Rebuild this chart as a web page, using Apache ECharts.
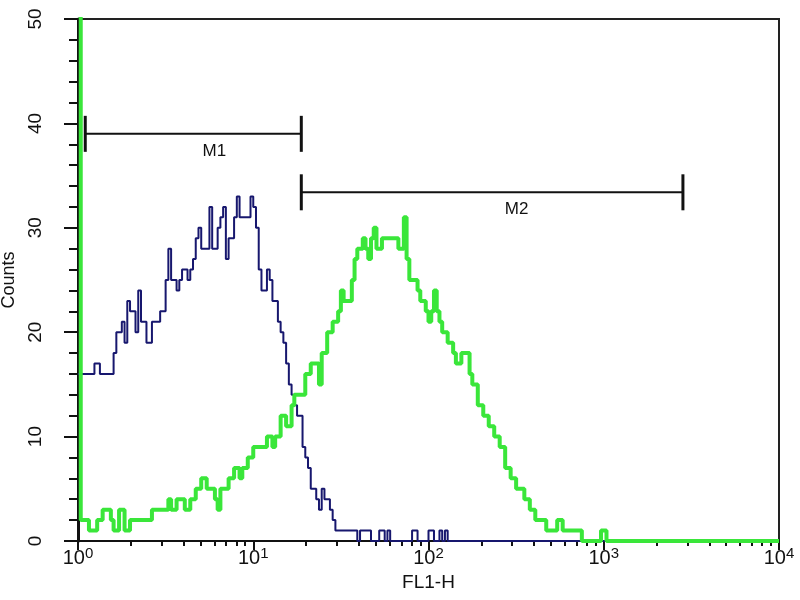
<!DOCTYPE html>
<html>
<head>
<meta charset="utf-8">
<script src="https://cdn.jsdelivr.net/npm/echarts@6/dist/echarts.min.js"></script>
<style>
html, body { margin: 0; padding: 0; background: #fff; }
#chart { width: 800px; height: 600px; }
</style>
</head>
<body>
<div id="chart"></div>
<script>
// FL1-H histogram, 256 log channels over 4 decades
var channelsPerDecade = 64;
var totalChannels = 256;
var decades = [0, 1, 2, 3, 4];

// counts per channel, starting at channel 0
var blueCounts = [
    16, 16, 16, 16, 16, 16, 17, 17, 16, 16, 16, 16, 16, 18, 20, 20,
    21, 19, 23, 22, 22, 20, 24, 21, 21, 19, 19, 21, 21, 21, 22, 22,
    25, 28, 25, 25, 24, 25, 26, 26, 25, 26, 27, 29, 30, 28, 28, 28,
    32, 28, 28, 30, 31, 32, 27, 29, 29, 31, 33, 31, 31, 31, 31, 33,
    32, 30, 26, 24, 24, 26, 25, 23, 23, 21, 20, 19, 17, 15, 14, 13,
    12, 12, 9, 8, 7, 5, 5, 4, 3, 5, 4, 4, 3, 2, 1, 1,
    1, 1, 1, 1, 1, 1, 0, 1, 1, 1, 1, 0, 0, 0, 1, 1,
    0, 1, 0, 0, 0, 0, 0, 0, 0, 0, 1, 1, 0, 0, 0, 0,
    1, 1, 0, 0, 1, 0, 1, 0
];
// channel 0 is off scale
var greenCounts = [
    120, 2, 2, 2, 1, 1, 1, 2, 2, 3, 3, 3, 2, 1, 1, 3,
    3, 1, 1, 2, 2, 2, 2, 2, 2, 2, 2, 3, 3, 3, 3, 3,
    3, 4, 3, 3, 4, 4, 4, 3, 3, 4, 4, 5, 5, 6, 6, 5,
    5, 5, 4, 3, 5, 5, 5, 6, 6, 7, 7, 6, 7, 7, 8, 8,
    9, 9, 9, 9, 9, 10, 10, 9, 10, 10, 12, 12, 11, 11, 13, 14,
    14, 14, 14, 16, 16, 17, 17, 17, 15, 18, 18, 20, 20, 21, 21, 22,
    24, 23, 23, 23, 25, 27, 28, 28, 29, 28, 27, 29, 30, 28, 28, 29,
    29, 29, 29, 29, 29, 28, 28, 31, 27, 25, 25, 25, 24, 23, 23, 22,
    21, 22, 24, 22, 21, 20, 20, 19, 19, 18, 17, 17, 18, 18, 18, 16,
    15, 15, 13, 13, 12, 12, 11, 11, 10, 10, 9, 9, 7, 7, 6, 6,
    5, 5, 5, 4, 4, 3, 3, 2, 2, 2, 2, 1, 1, 1, 1, 2,
    2, 1, 1, 1, 1, 1, 1, 1, 0, 0, 0, 0, 0, 0, 0, 1,
    1
];

// markers (FL1-H values)
var gateNames = ['M1', 'M2'];
var gateFrom = [1.1, 18.8];
var gateTo = [18.8, 2830];
var gateLevel = [39, 33.4];
var gateLabelAt = [6.0, 318];

function toPoints(counts) {
    var pts = counts.map(function (c, ch) { return [ch / channelsPerDecade, c]; });
    pts.push([counts.length / channelsPerDecade, 0]);
    pts.push([totalChannels / channelsPerDecade, 0]);
    return pts;
}

var minorTicks = [];
decades.slice(0, -1).forEach(function (d) {
    for (var k = 2; k <= 9; k++) minorTicks.push(d + Math.log10(k));
});

var gateData = gateNames.map(function (n, i) {
    return [Math.log10(gateFrom[i]), Math.log10(gateTo[i]), gateLevel[i], Math.log10(gateLabelAt[i])];
});

var myChart = echarts.init(document.getElementById('chart'));
var font = '"Liberation Sans", Arial, sans-serif';
var option = {
    animation: false,
    backgroundColor: '#fff',
    grid: {
        left: 78, right: 21, top: 19, bottom: 59,
        containLabel: false, outerBoundsMode: 'none',
        show: true, borderColor: '#222', borderWidth: 2
    },
    xAxis: [{
        type: 'value', min: 0, max: 4, interval: 1,
        name: 'FL1-H', nameLocation: 'middle', nameGap: 30,
        nameTextStyle: { fontFamily: font, fontSize: 19, color: '#111' },
        axisLine: { lineStyle: { color: '#111', width: 2 } },
        axisTick: { length: 9, lineStyle: { color: '#111', width: 2 } },
        splitLine: { show: false },
        axisLabel: {
            margin: 5,
            formatter: function (v) { return '{b|10}{s|' + v + '}'; },
            rich: {
                b: { fontFamily: font, fontSize: 20, color: '#111', lineHeight: 24 },
                s: { fontFamily: font, fontSize: 15, color: '#111', verticalAlign: 'top', lineHeight: 14 }
            }
        }
    }, {
        type: 'value', min: 0, max: 4, position: 'bottom',
        axisLine: { show: false },
        axisLabel: { show: false },
        splitLine: { show: false },
        axisTick: { length: 5, customValues: minorTicks, lineStyle: { color: '#111', width: 2 } }
    }],
    yAxis: {
        type: 'value', min: 0, max: 50, interval: 10,
        name: 'Counts', nameLocation: 'middle', nameGap: 56,
        nameTextStyle: { fontFamily: font, fontSize: 18, color: '#111' },
        axisLine: { show: true, lineStyle: { color: '#111', width: 3 } },
        axisTick: { length: 14, lineStyle: { color: '#111', width: 2 } },
        minorTick: { show: true, splitNumber: 5, length: 9, lineStyle: { color: '#111', width: 2 } },
        splitLine: { show: false },
        axisLabel: { rotate: 90, margin: 33, fontFamily: font, fontSize: 19, color: '#111' }
    },
    series: [{
        name: 'blue',
        type: 'line', step: 'end', showSymbol: false, clip: true,
        lineStyle: { color: '#17176e', width: 2 },
        data: toPoints(blueCounts)
    }, {
        name: 'green',
        type: 'line', step: 'end', showSymbol: false, clip: true,
        lineStyle: { color: '#3ae63a', width: 4 },
        data: toPoints(greenCounts)
    }, {
        type: 'custom',
        data: gateData,
        renderItem: function (params, api) {
            var lvl = api.value(2);
            var p0 = api.coord([api.value(0), lvl]);
            var p1 = api.coord([api.value(1), lvl]);
            var pl = api.coord([api.value(3), lvl]);
            var ink = { stroke: '#111', lineWidth: 2 };
            var cap = { stroke: '#111', lineWidth: 3 };
            return {
                type: 'group',
                children: [
                    { type: 'line', shape: { x1: p0[0], y1: p0[1], x2: p1[0], y2: p1[1] }, style: ink },
                    { type: 'line', shape: { x1: p0[0], y1: p0[1] - 18, x2: p0[0], y2: p0[1] + 18 }, style: cap },
                    { type: 'line', shape: { x1: p1[0], y1: p1[1] - 18, x2: p1[0], y2: p1[1] + 18 }, style: cap },
                    { type: 'text', x: pl[0], y: pl[1] + 17,
                      style: { text: gateNames[params.dataIndex], fontFamily: font, fontSize: 17,
                               fill: '#111', align: 'center', verticalAlign: 'middle' } }
                ]
            };
        }
    }]
};
myChart.setOption(option);
</script>
</body>
</html>
